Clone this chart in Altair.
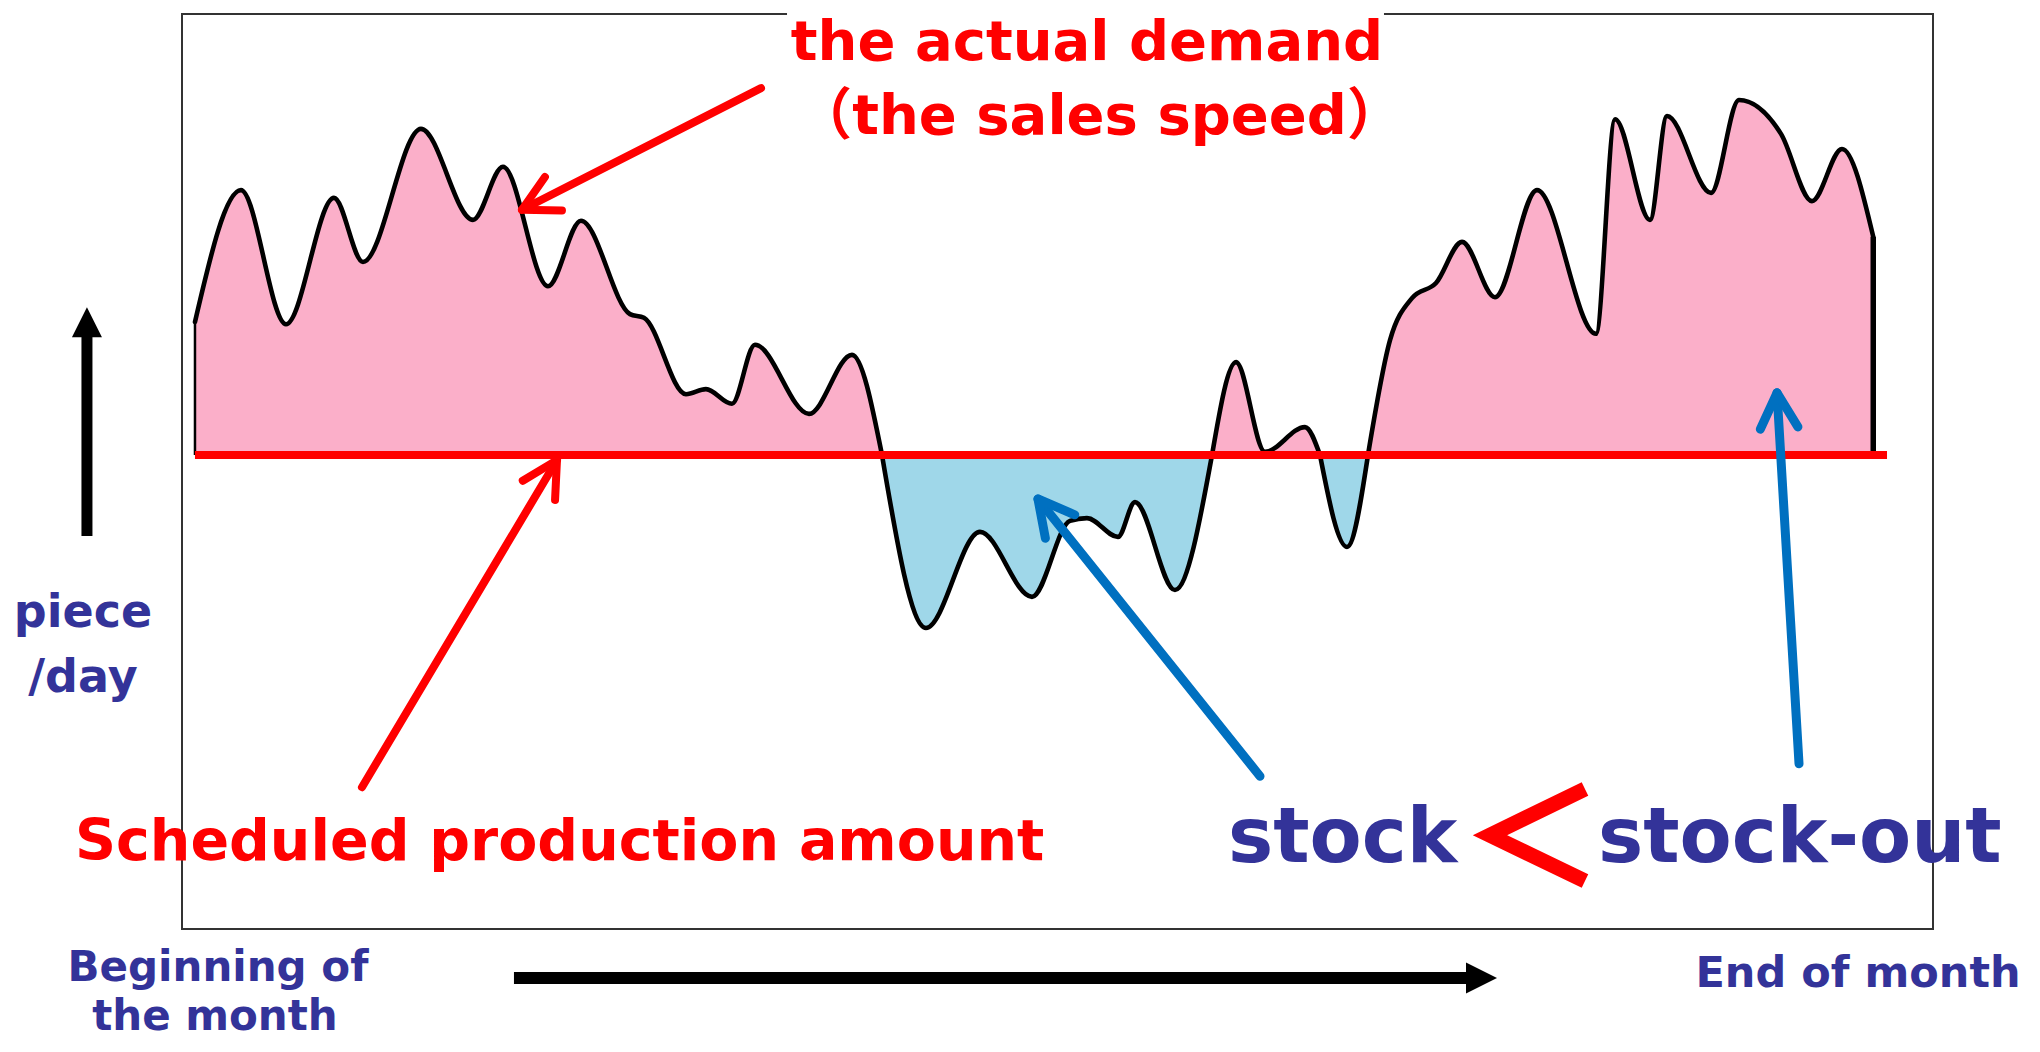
import math
import altair as alt
import pandas as pd

# ---------------- data ----------------
# x = day of the month (0 = beginning, 30 = end), y = pieces/day
day = [0.000, 0.822, 1.627, 2.485, 3.003, 4.040, 4.969, 5.506, 6.310, 6.900,
       7.776, 8.026, 8.777, 9.134, 9.599, 10.010, 10.976, 11.744, 12.281,
       13.067, 14.032, 14.962, 15.641, 15.945, 16.499, 16.803, 17.518, 18.180,
       18.609, 19.127, 19.842, 20.110, 20.593, 20.968,
       21.362, 21.755, 22.184, 22.649, 23.238, 23.989, 25.044, 25.384, 26.009,
       26.313, 27.100, 27.600, 28.351, 28.905, 29.441, 30.000]
demand = [132.7, 161.5, 132.2, 159.8, 145.8, 174.9, 155.0, 166.6, 140.5, 154.8,
          134.4, 133.6, 116.9, 118.0, 114.8, 127.7, 112.6, 125.5, 103.6,
          65.8, 86.8, 72.6, 89.2, 89.8, 85.7, 93.3, 74.1, 103.6,
          123.9, 104.3, 109.7, 103.6, 83.5, 103.6,
          128.7, 137.9, 141.2, 150.2, 138.1, 161.5, 130.1, 177.0, 155.0,
          177.7, 160.9, 181.2, 173.8, 159.1, 170.5, 151.3]
PLAN = 103.6          # scheduled production amount (pieces/day)
PLAN_END = 30.246     # red line runs a little past the curve

# annotation arrows: tail -> tip
arrow_tail_x = [10.118, 2.985, 19.038, 28.673]
arrow_tail_y = [183.8, 31.0, 33.4, 36.1]
arrow_tip_x = [5.845, 6.471, 15.069, 28.280]
arrow_tip_y = [157.2, 102.5, 94.0, 117.2]
arrow_color = ["#FF0000", "#FF0000", "#0070C0", "#0070C0"]
arrow_width = [8, 8, 9, 9]

# black axis arrows
axis_x = [-1.931, 5.702]
axis_x2 = [-1.931, 22.79]
axis_y = [85.9, -10.7]
axis_y2 = [130.9, -10.7]
axis_w = [11, 12]
axis_head_x = [-1.931, 22.997]
axis_head_y = [132.6, -10.7]
axis_head_shape = ["M0,-1L1,1L-1,1Z", "M1,0L-1,-1L-1,1Z"]
axis_head_size = [900, 961]

# the red "<" between stock and stock-out
chev_x = [24.847, 23.149, 24.847]
chev_y = [30.6, 20.5, 10.5]

# texts
c_text = ["the actual demand", "（the sales speed）", "piece", "/day",
          "Beginning of", "the month", "End of month"]
c_x = [15.945, 16.169, -2.002, -2.002, 0.411, 0.357, 29.728]
c_y = [189.9, 173.8, 66.0, 51.8, -11.4, -22.1, -12.7]
c_col = ["#FF0000", "#FF0000", "#333399", "#333399", "#333399", "#333399", "#333399"]
c_size = [56, 56, 46, 46, 42, 42, 43]

l_text = ["Scheduled production amount", "stock", "stock-out"]
l_x = [-2.145, 18.466, 25.080]
l_y = [15.1, 14.6, 14.6]
l_col = ["#FF0000", "#333399", "#333399"]
l_size = [57, 76, 76]

# white patch behind the top title (hides the frame line there)
patch_x, patch_x2 = [10.583], [21.254]
patch_y, patch_y2 = [198.6], [201.6]

# ---------------- layout / style ----------------
W, H = 1751, 915
XDOM = [-0.232, 31.068]
YDOM = [0, 200]
PINK = "#FBAFC9"
BLUE = "#9FD7E9"
RED = "#FF0000"
FONT = "DejaVu Sans, Noto Sans CJK JP"

xs = alt.Scale(domain=XDOM, nice=False, zero=False)
ys = alt.Scale(domain=YDOM, nice=False, zero=False)


def X(f):
    return alt.X(f, type="quantitative", scale=xs, axis=None)


def Y(f):
    return alt.Y(f, type="quantitative", scale=ys, axis=None, stack=None)


# split curve into segments at crossings of the plan line
rows = []
seg = 0
cur = []
for i, (d, v) in enumerate(zip(day, demand)):
    cur.append((d, v))
    if v == PLAN and i > 0:
        kind = "over" if max(p[1] for p in cur) > PLAN else "under"
        rows += [dict(day=p[0], demand=p[1], seg=seg, kind=kind) for p in cur]
        seg += 1
        cur = [(d, v)]
if len(cur) > 1:
    kind = "over" if max(p[1] for p in cur) > PLAN else "under"
    rows += [dict(day=p[0], demand=p[1], seg=seg, kind=kind) for p in cur]
curve = pd.DataFrame(rows)

area = alt.Chart(curve).mark_area(interpolate="monotone", opacity=1).encode(
    x=X("day"), y=Y("demand"), y2=alt.datum(PLAN),
    color=alt.Color("kind:N", scale=alt.Scale(domain=["over", "under"], range=[PINK, BLUE]), legend=None),
    detail="seg:N",
)
line = alt.Chart(curve).mark_line(interpolate="monotone", color="black", strokeWidth=4.6,
                                  strokeCap="round", strokeJoin="round").encode(
    x=X("day"), y=Y("demand"), detail="seg:N",
)

ends = pd.DataFrame({"x": [day[0], day[-1]], "y": [PLAN, PLAN],
                     "y2": [demand[0], demand[-1]], "w": [2.5, 5.5]})
end_rules = alt.Chart(ends).mark_rule(color="black", strokeCap="butt").encode(
    x=X("x"), y=Y("y"), y2="y2", strokeWidth=alt.StrokeWidth("w:Q", scale=None))

plan_df = pd.DataFrame({"x": [day[0]], "x2": [PLAN_END], "y": [PLAN]})
plan_rule = alt.Chart(plan_df).mark_rule(color=RED, strokeWidth=8, strokeCap="butt").encode(
    x=X("x"), x2="x2", y=Y("y"))

arrows = pd.DataFrame({"x": arrow_tail_x, "y": arrow_tail_y, "x2": arrow_tip_x, "y2": arrow_tip_y,
                       "c": arrow_color, "w": arrow_width})
px_x = W / (XDOM[1] - XDOM[0])
px_y = H / (YDOM[1] - YDOM[0])
angs = []
for tx, ty, hx, hy in zip(arrow_tail_x, arrow_tail_y, arrow_tip_x, arrow_tip_y):
    dx = (tx - hx) * px_x
    dy = -(ty - hy) * px_y
    angs.append(math.degrees(math.atan2(-dx, dy)) % 360)
arrows["ang"] = angs

shafts = alt.Chart(arrows).mark_rule(strokeCap="round").encode(
    x=X("x"), y=Y("y"), x2="x2", y2="y2",
    color=alt.Color("c:N", scale=None), strokeWidth=alt.StrokeWidth("w:Q", scale=None))
heads = alt.Chart(arrows).mark_point(shape="M-0.47,0.883L0,0L0.47,0.883", filled=False, size=6400,
                                     opacity=1, strokeCap="round", strokeJoin="round").encode(
    x=X("x2"), y=Y("y2"), angle=alt.Angle("ang:Q", scale=None),
    color=alt.Color("c:N", scale=None), strokeWidth=alt.StrokeWidth("w:Q", scale=None))

ax_df = pd.DataFrame({"x": axis_x, "x2": axis_x2, "y": axis_y, "y2": axis_y2, "w": axis_w})
ax_shafts = alt.Chart(ax_df).mark_rule(color="black", strokeCap="butt").encode(
    x=X("x"), x2="x2", y=Y("y"), y2="y2", strokeWidth=alt.StrokeWidth("w:Q", scale=None))
axh_df = pd.DataFrame({"x": axis_head_x, "y": axis_head_y, "s": axis_head_shape, "z": axis_head_size})
ax_heads = alt.Chart(axh_df).mark_point(filled=True, opacity=1, color="black", strokeWidth=0).encode(
    x=X("x"), y=Y("y"), shape=alt.Shape("s:N", scale=None), size=alt.Size("z:Q", scale=None))

chev_df = pd.DataFrame({"x": chev_x, "y": chev_y, "o": [0, 1, 2]})
chev = alt.Chart(chev_df).mark_line(color=RED, strokeWidth=15, strokeJoin="miter", strokeCap="butt").encode(
    x=X("x"), y=Y("y"), order="o:Q")

patch_df = pd.DataFrame({"x": patch_x, "x2": patch_x2, "y": patch_y, "y2": patch_y2})
patch = alt.Chart(patch_df).mark_rect(color="white", opacity=1).encode(
    x=X("x"), x2="x2", y=Y("y"), y2="y2")

ct = pd.DataFrame({"t": c_text, "x": c_x, "y": c_y, "c": c_col, "s": c_size})
ctext = alt.Chart(ct).mark_text(font=FONT, fontWeight="bold", align="center", baseline="alphabetic").encode(
    x=X("x"), y=Y("y"), text="t:N", color=alt.Color("c:N", scale=None), size=alt.Size("s:Q", scale=None))
lt = pd.DataFrame({"t": l_text, "x": l_x, "y": l_y, "c": l_col, "s": l_size})
ltext = alt.Chart(lt).mark_text(font=FONT, fontWeight="bold", align="left", baseline="alphabetic").encode(
    x=X("x"), y=Y("y"), text="t:N", color=alt.Color("c:N", scale=None), size=alt.Size("s:Q", scale=None))

chart = alt.layer(
    area, end_rules, line, plan_rule, shafts, heads, ax_shafts, ax_heads, chev, patch, ctext, ltext
).resolve_scale(color="independent", size="independent", strokeWidth="independent", shape="independent").properties(
    width=W, height=H,
    padding={"left": 174, "top": 6, "right": 95, "bottom": 112},
    autosize=alt.AutoSizeParams(type="none"),
    background="white",
).configure_view(stroke="#333333", strokeWidth=2)

chart.save("out.html", embed_options={"renderer": "svg", "actions": False})
